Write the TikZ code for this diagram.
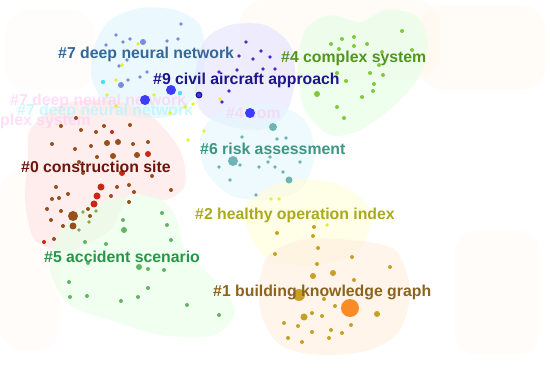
\documentclass[tikz,border=0pt]{standalone}
\usepackage{fontspec}
\setmainfont{Liberation Sans}
\definecolor{lab7}{RGB}{52,104,152}
\definecolor{lab9}{RGB}{30,20,140}
\definecolor{lab4}{RGB}{80,150,30}
\definecolor{lab6}{RGB}{60,150,130}
\definecolor{lab0}{RGB}{110,20,10}
\definecolor{lab2}{RGB}{170,170,30}
\definecolor{lab5}{RGB}{40,150,70}
\definecolor{lab1}{RGB}{140,100,30}
\definecolor{dot7}{RGB}{120,140,220}
\definecolor{dot9}{RGB}{80,40,200}
\definecolor{dot4}{RGB}{130,200,60}
\definecolor{dot6}{RGB}{110,180,180}
\definecolor{dot0}{RGB}{150,80,30}
\definecolor{red0}{RGB}{200,40,20}
\definecolor{dot5}{RGB}{100,180,100}
\definecolor{dot1}{RGB}{200,160,40}
\definecolor{big1}{RGB}{250,140,40}
\definecolor{yel}{RGB}{230,240,40}
\definecolor{cya}{RGB}{80,220,240}
\definecolor{bigb}{RGB}{60,60,250}
\definecolor{oliv}{RGB}{150,160,80}
\definecolor{ghostp}{RGB}{255,200,240}
\definecolor{ghostc}{RGB}{170,245,255}
\begin{document}
\begin{tikzpicture}[x=0.03cm,y=-0.03cm,
    lbl/.style={anchor=base west,inner sep=0pt,font=\fontsize{13.5}{16}\selectfont\bfseries},
    ghost/.style={lbl,text opacity=0.6},
    blob/.style={fill opacity=0.65}]
    \useasboundingbox (0,0) rectangle (550,369);
    % Fondos muy tenues
    \fill[orange!8, fill opacity=0.4, rounded corners=20] (240,0) rectangle (440,80);
    \fill[orange!8, fill opacity=0.4, rounded corners=20] (420,5) rectangle (545,90);
    \fill[orange!6, fill opacity=0.35, rounded corners=20] (455,230) rectangle (540,355);
    \fill[orange!6, fill opacity=0.35, rounded corners=20] (0,170) rectangle (60,350);
    \fill[orange!5, fill opacity=0.3, rounded corners=20] (5,10) rectangle (95,90);
    % Regiones de los clusters
    \fill[cyan!12, blob] plot[smooth cycle] coordinates {(95,45) (110,20) (140,8) (175,10) (200,25) (205,60) (195,95) (175,115) (140,118) (110,108) (92,80)};
    \fill[blue!10, blob] plot[smooth cycle] coordinates {(205,40) (230,25) (265,25) (290,45) (295,80) (285,115) (260,130) (225,125) (200,110) (195,75)};
    \fill[green!10, blob] plot[smooth cycle] coordinates {(305,30) (330,15) (360,22) (385,10) (415,15) (428,40) (420,75) (395,105) (360,130) (330,135) (305,110) (298,70)};
    \fill[cyan!10, blob] plot[smooth cycle] coordinates {(210,120) (240,105) (275,105) (305,120) (315,155) (300,190) (265,200) (230,195) (205,170) (200,140)};
    \fill[red!10, blob] plot[smooth cycle] coordinates {(30,130) (60,105) (110,100) (150,115) (180,150) (185,185) (165,200) (130,195) (110,230) (70,250) (35,240) (25,200) (28,160)};
    \fill[green!9, blob] plot[smooth cycle] coordinates {(60,230) (90,205) (150,195) (175,215) (185,250) (215,280) (235,310) (215,335) (160,335) (110,320) (70,305) (50,270)};
    \fill[yellow!15, blob] plot[smooth cycle] coordinates {(250,200) (290,180) (340,185) (370,210) (360,250) (320,265) (270,260) (248,230)};
    \fill[orange!12, blob] plot[smooth cycle] coordinates {(265,260) (300,240) (350,240) (395,250) (410,290) (400,330) (370,350) (320,355) (280,345) (260,310)};
    % Textos fantasma
    \node[ghost, ghostc] (g7b) at (17,116) {\#7 deep neural network};
    \node[ghost, ghostp] (g7a) at (10,106) {\#7 deep neural network};
    \node[ghost, ghostp] (g4a) at (0,126) {plex system};
    \node[ghost, ghostp] (g4b) at (226,119) {\#4 com};
    % Nodos del cluster #7
    \foreach \px/\py in {181/24, 116/35, 123/42, 130/39, 106/45, 167/41, 178/39, 127/60, 119/66, 147/72, 140/77, 128/80}
        \fill[dot7] (\px,\py) circle (1.8);
    \foreach \px/\py in {143/42, 121/85}
        \fill[dot7] (\px,\py) circle (3);
    \foreach \px/\py in {138/44, 122/65, 116/80, 107/95, 116/106, 154/95, 170/113, 185/107, 193/104, 197/95, 220/99, 204/131, 188/140, 271/199, 279/199, 327/225}
        \fill[yel] (\px,\py) circle (1.9);
    \foreach \px/\py in {103/82, 180/93}
        \fill[cya] (\px,\py) circle (2.2);
    % Nodos del cluster #9
    \foreach \px/\py in {246/42, 261/51, 239/56, 253/59, 270/57, 263/69, 275/69, 237/70, 219/72, 229/91, 222/102}
        \fill[dot9] (\px,\py) circle (1.9);
    \foreach \px/\py in {145/100, 171/90, 250/113}
        \fill[bigb] (\px,\py) circle (5);
    \filldraw[fill=bigb, draw=lab9, line width=1pt] (199,95) circle (2.8);
    % Nodos del cluster #6
    \foreach \px/\py in {242/137, 286/138, 277/139, 240/165, 219/167, 259/167, 270/157, 268/162, 283/172, 275/167, 230/180, 300/162, 256/195}
        \fill[dot6] (\px,\py) circle (1.8);
    \foreach \px/\py/\r in {273/127/4, 233/161/5, 289/180/3.5}
        \fill[dot6] (\px,\py) circle (\r);
    % Nodos del cluster #4
    \foreach \px/\py in {402/31, 412/50, 354/37, 342/39, 331/44, 339/49, 354/46, 367/44, 382/52, 379/65, 383/75, 370/73, 337/73, 346/81, 374/84, 373/91, 362/97, 337/107, 344/118}
        \fill[dot4] (\px,\py) circle (2);
    \fill[dot4] (317,94) circle (3);
    % Nodos del cluster #0
    \foreach \px/\py in {76/118, 61/126, 81/130, 104/126, 130/125, 96/132, 52/144, 75/149, 91/146, 133/144, 148/142, 97/157, 79/162, 83/173, 152/176, 56/187, 117/187, 129/185, 171/190, 68/194, 59/198, 52/199, 111/196, 134/192, 129/202, 47/209, 61/211, 88/209, 90/216, 51/220, 63/226, 54/239}
        \fill[dot0] (\px,\py) circle (2);
    \foreach \px/\py/\r in {107/143/3, 118/142/3, 113/156/3, 137/155/3, 73/216/5, 73/226/3.5}
        \fill[dot0] (\px,\py) circle (\r);
    \foreach \px/\py/\r in {112/132/2, 148/154/3, 122/173/3, 101/187/3.5, 97/196/3.5, 94/204/3.5, 44/242/2}
        \fill[red0] (\px,\py) circle (\r);
    \foreach \px/\py in {79/230, 89/222, 96/211, 83/212}
        \fill[oliv] (\px,\py) circle (1.9);
    % Nodos del cluster #5
    \foreach \px/\py in {162/213, 167/225, 123/220, 171/240, 85/242, 106/244, 88/263, 148/269, 164/270, 69/282, 148/288, 70/297, 87/296, 138/297, 121/301, 187/305, 219/315}
        \fill[dot5] (\px,\py) circle (2);
    \foreach \px/\py in {124/230, 139/267}
        \fill[dot5] (\px,\py) circle (3);
    % Nodos del cluster #1
    \foreach \px/\py in {314/227, 277/233, 313/236, 318/248, 275/254, 352/257, 390/267, 317/264, 354/280, 324/299, 335/306, 312/313, 322/316, 284/323, 298/326, 351/325, 331/330, 312/332, 342/333, 288/338, 329/338, 302/342}
        \fill[dot1] (\px,\py) circle (2);
    \foreach \px/\py/\r in {313/276/3, 333/273/3, 377/314/3, 304/317/3.5, 299/295/6}
        \fill[dot1] (\px,\py) circle (\r);
    \fill[big1] (350,308) circle (9);
    % Etiquetas de los clusters
    \node[lbl, lab7] (c7) at (58,59) {\#7 deep neural network};
    \node[lbl, lab4] (c4) at (281,63) {\#4 complex system};
    \node[lbl, lab9] (c9) at (153,85) {\#9 civil aircraft approach};
    \node[lbl, lab6] (c6) at (200,155) {\#6 risk assessment};
    \node[lbl, lab0] (c0) at (21,173) {\#0 construction site};
    \node[lbl, lab2] (c2) at (195,220) {\#2 healthy operation index};
    \node[lbl, lab5] (c5) at (44,263) {\#5 accident scenario};
    \node[lbl, lab1] (c1) at (213,297) {\#1 building knowledge graph};
\end{tikzpicture}
\end{document}
